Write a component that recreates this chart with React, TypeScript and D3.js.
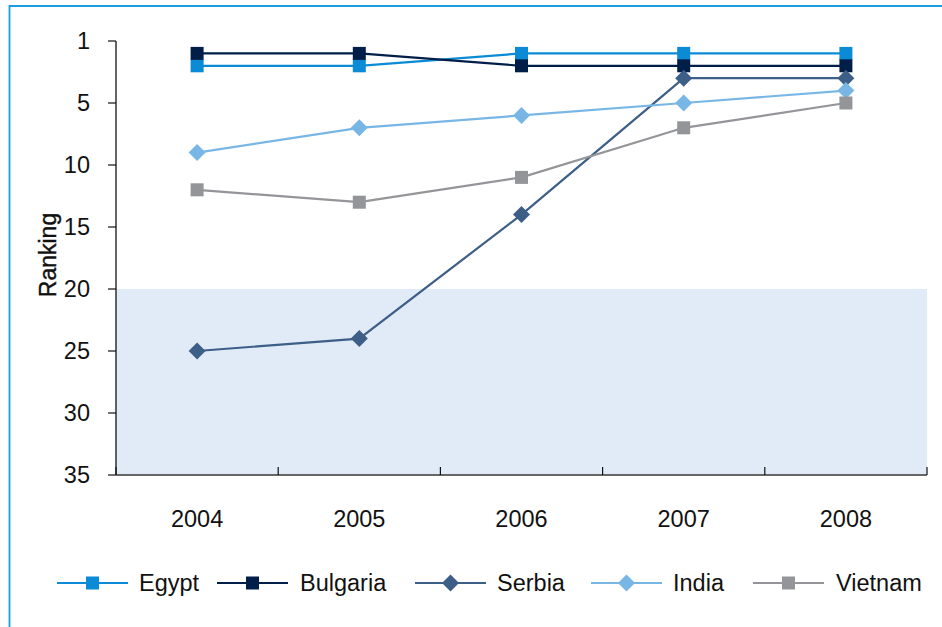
import React from "react";
import * as d3 from "d3";

// Ranking by year for each country (1 = best)
const years = ["2004", "2005", "2006", "2007", "2008"];
const egypt = [2, 2, 1, 1, 1];
const bulgaria = [1, 1, 2, 2, 2];
const serbia = [25, 24, 14, 3, 3];
const india = [9, 7, 6, 5, 4];
const vietnam = [12, 13, 11, 7, 5];

const yTickValues = [0, 5, 10, 15, 20, 25, 30, 35];
const yTickLabels = ["1", "5", "10", "15", "20", "25", "30", "35"];
const shadeFrom = 20;
const shadeTo = 35;

type Series = { name: string; values: number[]; color: string; marker: "square" | "diamond" };

const series: Series[] = [
  { name: "Egypt", values: egypt, color: "#0b8ad5", marker: "square" },
  { name: "Bulgaria", values: bulgaria, color: "#001e48", marker: "square" },
  { name: "Serbia", values: serbia, color: "#3d5e86", marker: "diamond" },
  { name: "India", values: india, color: "#78b7e5", marker: "diamond" },
  { name: "Vietnam", values: vietnam, color: "#949598", marker: "square" },
];

const W = 942;
const H = 627;
const FONT = "'Liberation Sans', Arial, Helvetica, sans-serif";
const FS = 23.5;

function Marker({ kind, cx, cy, color }: { kind: string; cx: number; cy: number; color: string }) {
  if (kind === "square") {
    const s = 13;
    return <rect x={cx - s / 2} y={cy - s / 2} width={s} height={s} fill={color} />;
  }
  const s = 12;
  return (
    <rect
      x={-s / 2}
      y={-s / 2}
      width={s}
      height={s}
      fill={color}
      transform={`translate(${cx},${cy}) rotate(45)`}
    />
  );
}

export default function App() {
  const x = d3.scaleBand<string>().domain(years).range([116, 927]).paddingInner(0).paddingOuter(0);
  const y = d3.scaleLinear().domain([0, 35]).range([41, 475]);
  const cx = (yr: string) => (x(yr) ?? 0) + x.bandwidth() / 2;

  const line = d3
    .line<number>()
    .x((_, i) => cx(years[i]))
    .y((v) => y(v));

  const xTickPositions = [...years.map((yr) => x(yr) ?? 0), 927];

  // legend layout
  const legendY = 583;
  const legendItems = [
    { lineX: 57, textX: 139 },
    { lineX: 217, textX: 300 },
    { lineX: 415, textX: 497 },
    { lineX: 591, textX: 673 },
    { lineX: 753, textX: 836 },
  ];
  const legendLen = 71;

  return (
    <svg
      width={W}
      height={H}
      style={{ position: "absolute", left: 0, top: 0, background: "#fff" }}
      fontFamily={FONT}
    >
      {/* frame */}
      <path d={`M9.5,${H + 5} V6 H${W + 5}`} fill="none" stroke="#1b9be0" strokeWidth={1.8} />

      {/* shaded band */}
      <rect
        x={116}
        y={y(shadeFrom)}
        width={927 - 116}
        height={y(shadeTo) - y(shadeFrom)}
        fill="#e1ebf7"
      />

      {/* y axis */}
      <line x1={116} x2={116} y1={y(0)} y2={y(35)} stroke="#111" strokeWidth={1.3} />
      {yTickValues.map((v, i) => (
        <g key={v}>
          <line x1={108} x2={116} y1={y(v)} y2={y(v)} stroke="#111" strokeWidth={1.2} />
          <text x={90} y={y(v)} dy="0.36em" textAnchor="end" fontSize={FS} fill="#111">
            {yTickLabels[i]}
          </text>
        </g>
      ))}
      <text
        transform={`translate(56,${(y(0) + y(35)) / 2 - 3}) rotate(-90)`}
        textAnchor="middle"
        fontSize={23}
        fill="#111"
        stroke="#111"
        strokeWidth={0.4}
      >
        Ranking
      </text>

      {/* x axis */}
      <line x1={116} x2={927} y1={y(35)} y2={y(35)} stroke="#666" strokeWidth={2} />
      {xTickPositions.map((p, i) => (
        <line key={i} x1={p} x2={p} y1={y(35) - 8} y2={y(35)} stroke="#111" strokeWidth={1.2} />
      ))}
      {years.map((yr) => (
        <text key={yr} x={cx(yr)} y={527} textAnchor="middle" fontSize={FS} fill="#111">
          {yr}
        </text>
      ))}

      {/* series */}
      {series.map((s) => (
        <g key={s.name}>
          <path d={line(s.values) ?? ""} fill="none" stroke={s.color} strokeWidth={2.2} />
          {s.values.map((v, i) => (
            <Marker key={i} kind={s.marker} cx={cx(years[i])} cy={y(v)} color={s.color} />
          ))}
        </g>
      ))}

      {/* legend */}
      {series.map((s, i) => {
        const it = legendItems[i];
        return (
          <g key={s.name}>
            <line
              x1={it.lineX}
              x2={it.lineX + legendLen}
              y1={legendY}
              y2={legendY}
              stroke={s.color}
              strokeWidth={2.2}
            />
            <Marker kind={s.marker} cx={it.lineX + legendLen / 2} cy={legendY} color={s.color} />
            <text x={it.textX} y={legendY} dy="0.36em" fontSize={FS} fill="#111">
              {s.name}
            </text>
          </g>
        );
      })}
    </svg>
  );
}
